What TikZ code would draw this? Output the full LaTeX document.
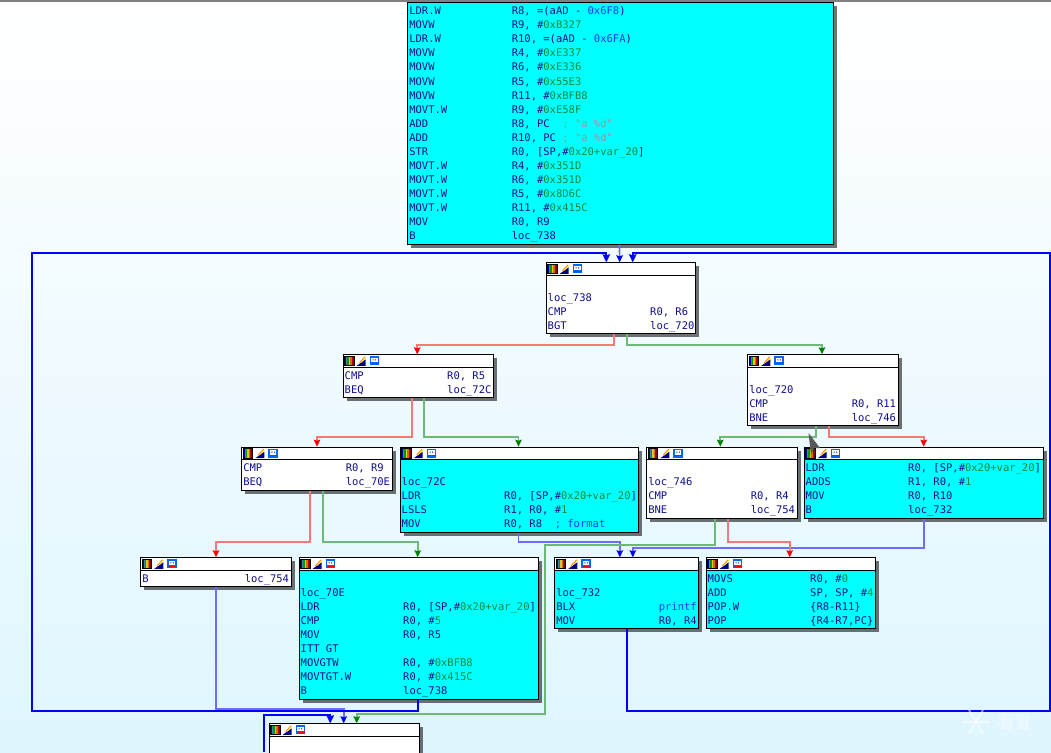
\documentclass[tikz,border=0pt]{standalone}
\usepackage{fontspec}
\setmonofont{DejaVu Sans Mono}
\newfontfamily\wmfont{Noto Sans CJK SC}
\usetikzlibrary{arrows.meta,shadows}
\definecolor{bgblue}{HTML}{DFF6FF}
\definecolor{boxcyan}{HTML}{00FFFF}
\definecolor{asmtext}{HTML}{101088}
\definecolor{asmnum}{HTML}{008A3C}
\definecolor{asmref}{HTML}{0A3CFF}
\definecolor{asmcmt}{HTML}{8F9AA0}
\definecolor{paleblue}{HTML}{6C6CFF}
\definecolor{palered}{HTML}{F87878}
\definecolor{palegreen}{HTML}{70B878}
\definecolor{darkgreen}{HTML}{008000}
\newcommand{\ins}[2]{\makebox[102.5pt][l]{#1}#2}
\newcommand{\nm}[1]{\textcolor{asmnum}{#1}}
\newcommand{\lk}[1]{\textcolor{asmref}{#1}}
\newcommand{\cm}[1]{\textcolor{asmcmt}{#1}}
\newcommand{\hd}{\rule{0pt}{24.5pt}}
\newcommand{\hdtop}{\rule{0pt}{12pt}}
\newcommand{\tl}{\rule[-4.4pt]{0pt}{4.4pt}}
\newcommand{\titleicons}{%
    \foreach \c [count=\i] in {blue!70!black,cyan!60!black,green!60!black,yellow!80!black,orange!85!black,red!75!black,purple!70!black} {
        \fill[\c] ({2+(\i-1)*1.36},2) rectangle ({2+\i*1.36},11.5);
    }
    \draw[black, line width=.7pt] (2,2) rectangle (11.5,11.5);
    \fill[blue!55!black] (14,11.5) -- (23,11.5) -- (23,5) -- cycle;
    \draw[orange, line width=1.1pt] (17,8.5) -- (22.5,2.5);
    \draw[yellow, line width=.6pt] (18,8.5) -- (23,3);
    \fill[blue!60!cyan] (27,2) rectangle (36.5,11);
    \fill[white] (28.5,3.5) rectangle (35,8);
    \fill[blue!70!black] (30,5) rectangle (31,6) (32.5,5) rectangle (33.5,6);
    \draw[red, line width=.8pt] (29,9) -- (36,9);
}
\begin{document}
\begin{tikzpicture}[
    x=1pt, y=-1pt,
    block/.style={draw=black, line width=1pt, anchor=north west, inner xsep=1.5pt, inner ysep=0pt, align=left,
        text=asmtext, font=\ttfamily\fontsize{10.5}{14.07}\selectfont,
        execute at begin node={\spaceskip=0pt\xspaceskip=0pt},
        drop shadow={shadow xshift=3.5pt, shadow yshift=-3.5pt, fill=black, opacity=.55}},
    plainbox/.style={block, fill=white},
    cyanbox/.style={block, fill=boxcyan},
    rededge/.style={draw=palered, line width=1.7pt, -{Stealth[red, length=7pt, width=6.5pt, inset=1pt]}},
    greenedge/.style={draw=palegreen, line width=1.7pt, -{Stealth[darkgreen, length=7pt, width=6.5pt, inset=1pt]}},
    blueedge/.style={draw=paleblue, line width=1.7pt, -{Stealth[blue, length=7pt, width=6.5pt, inset=1pt]}},
    backedge/.style={draw=blue, line width=2pt, -{Stealth[blue, length=8pt, width=7.5pt, inset=1pt]}}
]
    \clip (0,0) rectangle (1051,752);
    \shade[top color=white, bottom color=bgblue] (0,0) rectangle (1051,752);
    \fill[gray] (0,0) rectangle (1051,2);

    \node[block, fill=boxcyan, text width=422.4pt] (entry) at (407.3,2.2) {\hdtop\ins{LDR.W}{R8, =(aAD - \lk{0x6F8})}\\
        \ins{MOVW}{R9, \#\nm{0xB327}}\\
        \ins{LDR.W}{R10, =(aAD - \lk{0x6FA})}\\
        \ins{MOVW}{R4, \#\nm{0xE337}}\\
        \ins{MOVW}{R6, \#\nm{0xE336}}\\
        \ins{MOVW}{R5, \#\nm{0x55E3}}\\
        \ins{MOVW}{R11, \#\nm{0xBFB8}}\\
        \ins{MOVT.W}{R9, \#\nm{0xE58F}}\\
        \ins{ADD}{R8, PC~~\cm{; "a \%d"}}\\
        \ins{ADD}{R10, PC~\cm{; "a \%d"}}\\
        \ins{STR}{R0, [SP,\#\nm{0x20+var\_20}]}\\
        \ins{MOVT.W}{R4, \#\nm{0x351D}}\\
        \ins{MOVT.W}{R6, \#\nm{0x351D}}\\
        \ins{MOVT.W}{R5, \#\nm{0x8D6C}}\\
        \ins{MOVT.W}{R11, \#\nm{0x415C}}\\
        \ins{MOV}{R0, R9}\\
        \ins{B}{loc\_738}\tl};
    \node[plainbox, text width=146.6pt] (loc738) at (545.7,262.3) {\hd\\
        loc\_738\\
        \ins{CMP}{R0, R6}\\
        \ins{BGT}{loc\_720}\tl};
    \node[plainbox, text width=147pt] (cmpr5) at (342.7,354.3) {\hd\ins{CMP}{R0, R5}\\
        \ins{BEQ}{loc\_72C}\tl};
    \node[plainbox, text width=147.4pt] (loc720) at (747.3,354.3) {\hd\\
        loc\_720\\
        \ins{CMP}{R0, R11}\\
        \ins{BNE}{loc\_746}\tl};
    \node[plainbox, text width=147.4pt] (cmpr9) at (241.3,446.7) {\hd\ins{CMP}{R0, R9}\\
        \ins{BEQ}{loc\_70E}\tl};
    \node[cyanbox, text width=235.6pt] (loc72c) at (399.7,446.7) {\hd\\
        loc\_72C\\
        \ins{LDR}{R0, [SP,\#\nm{0x20+var\_20}]}\\
        \ins{LSLS}{R1, R0, \#\nm{1}}\\
        \ins{MOV}{R0, R8~~\lk{; format}}\tl};
    \node[plainbox, text width=147.4pt] (loc746) at (646.3,446.7) {\hd\\
        loc\_746\\
        \ins{CMP}{R0, R4}\\
        \ins{BNE}{loc\_754}\tl};
    \node[cyanbox, text width=236pt] (ldrvar) at (803.7,446.7) {\hd\ins{LDR}{R0, [SP,\#\nm{0x20+var\_20}]}\\
        \ins{ADDS}{R1, R0, \#\nm{1}}\\
        \ins{MOV}{R0, R10}\\
        \ins{B}{loc\_732}\tl};
    \node[plainbox, text width=147.4pt] (bloc754) at (140.3,557.3) {\hd\ins{B}{loc\_754}\tl};
    \node[cyanbox, text width=236pt] (loc70e) at (298.7,557.3) {\hd\\
        loc\_70E\\
        \ins{LDR}{R0, [SP,\#\nm{0x20+var\_20}]}\\
        \ins{CMP}{R0, \#\nm{5}}\\
        \ins{MOV}{R0, R5}\\
        ITT GT\\
        \ins{MOVGTW}{R0, \#\nm{0xBFB8}}\\
        \ins{MOVTGT.W}{R0, \#\nm{0x415C}}\\
        \ins{B}{loc\_738}\tl};
    \node[cyanbox, text width=141pt] (loc732) at (554.3,557.3) {\hd\\
        loc\_732\\
        \ins{BLX}{\lk{printf}}\\
        \ins{MOV}{R0, R4}\tl};
    \node[cyanbox, text width=166pt] (movs) at (705.7,557.3) {\hd\ins{MOVS}{R0, \#\nm{0}}\\
        \ins{ADD}{SP, SP, \#\nm{4}}\\
        \ins{POP.W}{\{R8-R11\}}\\
        \ins{POP}{\{R4-R7,PC\}}\tl};
    \node[plainbox, text width=147pt, minimum height=40pt] (bottom) at (268.7,723.3) {};

    \foreach \n in {loc738,cmpr5,loc720,cmpr9,loc72c,loc746,ldrvar,bloc754,loc70e,loc732,movs,bottom} {
        \draw[black, line width=1pt, fill=white] ([xshift=.5pt,yshift=-.5pt]\n.north west) rectangle ([xshift=-.5pt,yshift=-13pt]\n.north east);
        \begin{scope}[shift={(\n.north west)}]
            \titleicons
        \end{scope}
    }

    \coordinate (leftlow) at (32,711);
    \coordinate (lefttop) at (32,253);
    \coordinate (rightlow) at (1050,711);
    \coordinate (righttop) at (1050,253);
    \coordinate (greenup) at (545,545);
    \coordinate (greenlow) at (545,714);
    \coordinate (bluelow) at (216,709);
    \coordinate (backin) at (263.5,752);
    \coordinate (backup) at (263.5,715);

    \draw[blueedge] ([xshift=-1pt]entry.south) -- ([xshift=-1.3pt]loc738.north);
    \draw[rededge] ([xshift=-7pt]loc738.south) -- ++(0,10.6) -| ([xshift=-1pt]cmpr5.north);
    \draw[greenedge] ([xshift=6pt]loc738.south) -- ++(0,10.6) -| ([xshift=-1pt]loc720.north);
    \draw[rededge] ([xshift=-6pt]cmpr5.south) -- ++(0,38.73) -| (cmpr9.north);
    \draw[greenedge] ([xshift=6pt]cmpr5.south) -- ++(0,38.73) -| ([xshift=-1pt]loc72c.north);
    \draw[greenedge] ([xshift=-7pt]loc720.south) -- ++(0,10.6) -| ([xshift=-1.7pt]loc746.north);
    \draw[rededge] ([xshift=6pt]loc720.south) -- ++(0,10.6) -| (ldrvar.north);
    \draw[rededge] ([xshift=-7pt]cmpr9.south) -- ++(0,51.33) -| (bloc754.north);
    \draw[greenedge] ([xshift=6pt]cmpr9.south) -- ++(0,51.33) -| ([xshift=-1pt]loc70e.north);
    \draw[blueedge] ([xshift=-1pt]loc72c.south) -- ++(0,9.12) -| ([xshift=-7pt]loc732.north);
    \draw[blueedge] (ldrvar.south) -- ++(0,29.19) -| ([xshift=6pt]loc732.north);
    \draw[rededge] ([xshift=6pt]loc746.south) -- ++(0,23.19) -| ([xshift=-1pt]movs.north);
    \draw[greenedge] ([xshift=-7pt]loc746.south) |- (greenup) -- (greenlow) -| ([xshift=12.5pt]bottom.north);
    \draw[blueedge] (bloc754.south) -- (bluelow) -| ([xshift=-.5pt]bottom.north);
    \draw[backedge] ([xshift=-1pt]loc70e.south) |- (leftlow) -- (lefttop) -| ([xshift=-14.7pt]loc738.north);
    \draw[backedge] ([xshift=.5pt]loc732.south) |- (rightlow) -- (righttop) -| ([xshift=11.7pt]loc738.north);
    \draw[backedge] (backin) -- (backup) -| ([xshift=-14pt]bottom.north);

    \fill[black!65] (808.5,433) -- (820,448) -- (814,448) -- (811,455) -- cycle;
    \foreach \a in {0,60,120} {
        \draw[white, opacity=.55, line width=2pt] ([shift={(\a:-14)}]976,722) -- ([shift={(\a:14)}]976,722);
    }
    \node[text=white, opacity=.55, font=\wmfont\fontsize{17}{17}\selectfont] (wmark) at (1014,722) {看雪};
\end{tikzpicture}
\end{document}
